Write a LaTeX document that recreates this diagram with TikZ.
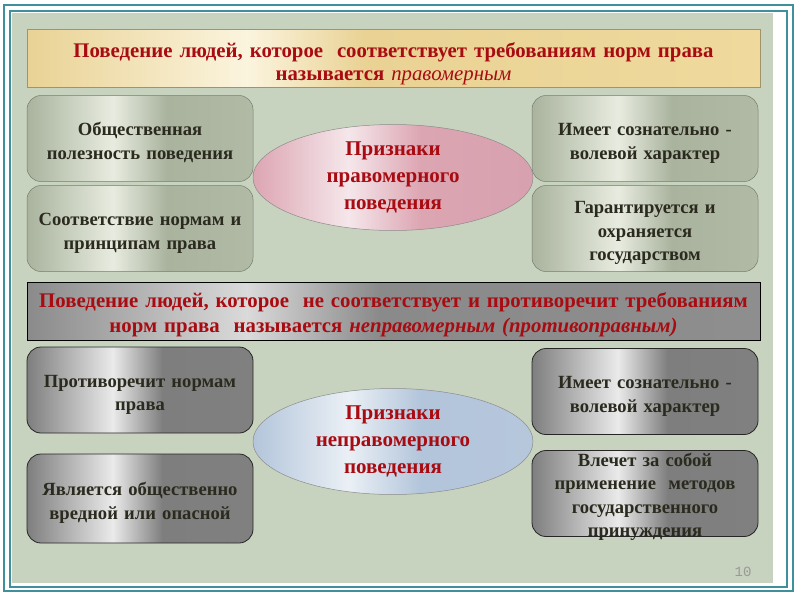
\documentclass[tikz,border=0pt]{standalone}
\usepackage{fontspec}
\setmainfont{Liberation Serif}
\newfontfamily\pagefont{Liberation Mono}
\usetikzlibrary{shapes.geometric}

\definecolor{frameteal}{HTML}{3F8F9D}
\definecolor{slidebg}{HTML}{C8D3BF}
\definecolor{titlered}{HTML}{A80C12}
\definecolor{cardtext}{HTML}{2A2A1E}
\definecolor{gA}{HTML}{A9B39D}
\definecolor{gB}{HTML}{E8ECE0}
\definecolor{gC}{HTML}{B1BAA5}
\definecolor{mA}{HTML}{7E7E7E}
\definecolor{mB}{HTML}{EAEAEA}
\definecolor{mC}{HTML}{808080}
\definecolor{tA}{HTML}{E9D294}
\definecolor{tB}{HTML}{FBF4DE}
\definecolor{tC}{HTML}{EFD99C}
\definecolor{hA}{HTML}{8A8A8A}
\definecolor{hB}{HTML}{DADADA}
\definecolor{hC}{HTML}{8E8E8E}
\definecolor{pA}{HTML}{DCA5B2}
\definecolor{pB}{HTML}{F5E7EB}
\definecolor{pC}{HTML}{D8A1AF}
\definecolor{bA}{HTML}{B3C5DB}
\definecolor{bB}{HTML}{EAF0F5}
\definecolor{bC}{HTML}{B6C7DC}

\pgfdeclarehorizontalshading{greenmetal}{100bp}{color(0bp)=(gA); color(25bp)=(gA); color(44bp)=(gB); color(56bp)=(gA); color(75bp)=(gC); color(100bp)=(gC)}
\pgfdeclarehorizontalshading{graymetal}{100bp}{color(0bp)=(mA); color(25bp)=(mA); color(44bp)=(mB); color(55bp)=(mA); color(75bp)=(mC); color(100bp)=(mC)}
\pgfdeclarehorizontalshading{tanmetal}{100bp}{color(0bp)=(tA); color(25bp)=(tA); color(40bp)=(tB); color(48bp)=(tA); color(75bp)=(tC); color(100bp)=(tC)}
\pgfdeclarehorizontalshading{headmetal}{100bp}{color(0bp)=(hA); color(25bp)=(hA); color(40bp)=(hB); color(49bp)=(hA); color(75bp)=(hC); color(100bp)=(hC)}
\pgfdeclarehorizontalshading{pinkmetal}{100bp}{color(0bp)=(pA); color(25bp)=(pA); color(42bp)=(pB); color(55bp)=(pA); color(75bp)=(pC); color(100bp)=(pC)}
\pgfdeclarehorizontalshading{bluemetal}{100bp}{color(0bp)=(bA); color(25bp)=(bA); color(42bp)=(bB); color(55bp)=(bA); color(75bp)=(bC); color(100bp)=(bC)}

\tikzset{
  card/.style={rounded corners=14pt, minimum width=226pt, minimum height=86pt,
    text width=218pt, inner sep=0pt, align=center, text=cardtext,
    font=\fontsize{18.6}{23.5}\selectfont\bfseries,
    execute at begin node={\rule{0pt}{21.5pt}}},
  lightcard/.style={card, shade, shading=greenmetal, draw=gA!70!black, line width=0.5pt},
  darkcard/.style={card, shade, shading=graymetal, draw=black!85, line width=0.8pt},
  headline/.style={minimum width=733pt, minimum height=58pt, inner sep=0pt,
    text width=726pt, align=center, text=titlered},
  oval/.style={ellipse, minimum width=280pt, minimum height=106pt, inner sep=0pt,
    text width=180pt, text height=10pt, text depth=54pt,
    align=center, text=titlered, draw=black!45, line width=0.5pt,
    font=\fontsize{21}{27}\selectfont\bfseries}
}

\begin{document}
\begin{tikzpicture}[x=1pt,y=-1pt]
  \useasboundingbox (0,0) rectangle (800,600);
  \fill[white] (0,0) rectangle (800,600);
  \draw[frameteal, line width=2.2pt] (4,5) rectangle (793,591);
  \draw[frameteal, line width=1.3pt] (10,11) rectangle (787,587);
  \fill[slidebg] (12,13) rectangle (773,583);

  \node[headline, shade, shading=tanmetal, draw=tA!70!black, line width=0.5pt,
    font=\fontsize{20.8}{23}\selectfont\bfseries,
    execute at begin node={\rule{0pt}{26pt}}] (legal) at (393.5,58)
    {Поведение людей, которое\ \ соответствует требованиям норм права\\
     называется \textit{\mdseries правомерным}};

  \node[lightcard] (useful) at (140,138.5) {Общественная\\полезность поведения};
  \node[lightcard] (norms) at (140,228.5) {Соответствие нормам и\\принципам права};
  \node[lightcard] (will) at (645,138.5) {Имеет сознательно -\\волевой характер};
  \node[lightcard] (state) at (645,228.5) {Гарантируется и\\охраняется\\государством};
  \node[oval, shade, shading=pinkmetal] (signs) at (393,177.5)
    {Признаки\\правомерного\\поведения};

  \node[headline, shade, shading=headmetal, draw=black, line width=0.8pt,
    font=\fontsize{20.8}{25}\selectfont\bfseries,
    execute at begin node={\rule{0pt}{22pt}}] (illegal) at (393.5,311)
    {Поведение людей, которое\ \ не соответствует и противоречит требованиям\\
     норм права\ \ называется \textit{неправомерным (противоправным)}};

  \node[darkcard] (contra) at (140,390) {Противоречит нормам\\права};
  \node[darkcard, minimum height=89pt] (harm) at (140,498.5) {Является общественно\\вредной или опасной};
  \node[darkcard] (will2) at (645,391.5) {Имеет сознательно -\\волевой характер};
  \node[darkcard, execute at begin node={}, text height=10pt, text depth=65pt] (force) at (645,493.5)
    {Влечет за собой\\применение\ \ методов\\государственного\\принуждения};
  \node[oval, shade, shading=bluemetal] (signs2) at (393,441.5)
    {Признаки\\неправомерного\\поведения};

  \node[text=black!40, font=\pagefont\fontsize{14}{14}\selectfont] (page) at (743,572) {10};
\end{tikzpicture}
\end{document}
